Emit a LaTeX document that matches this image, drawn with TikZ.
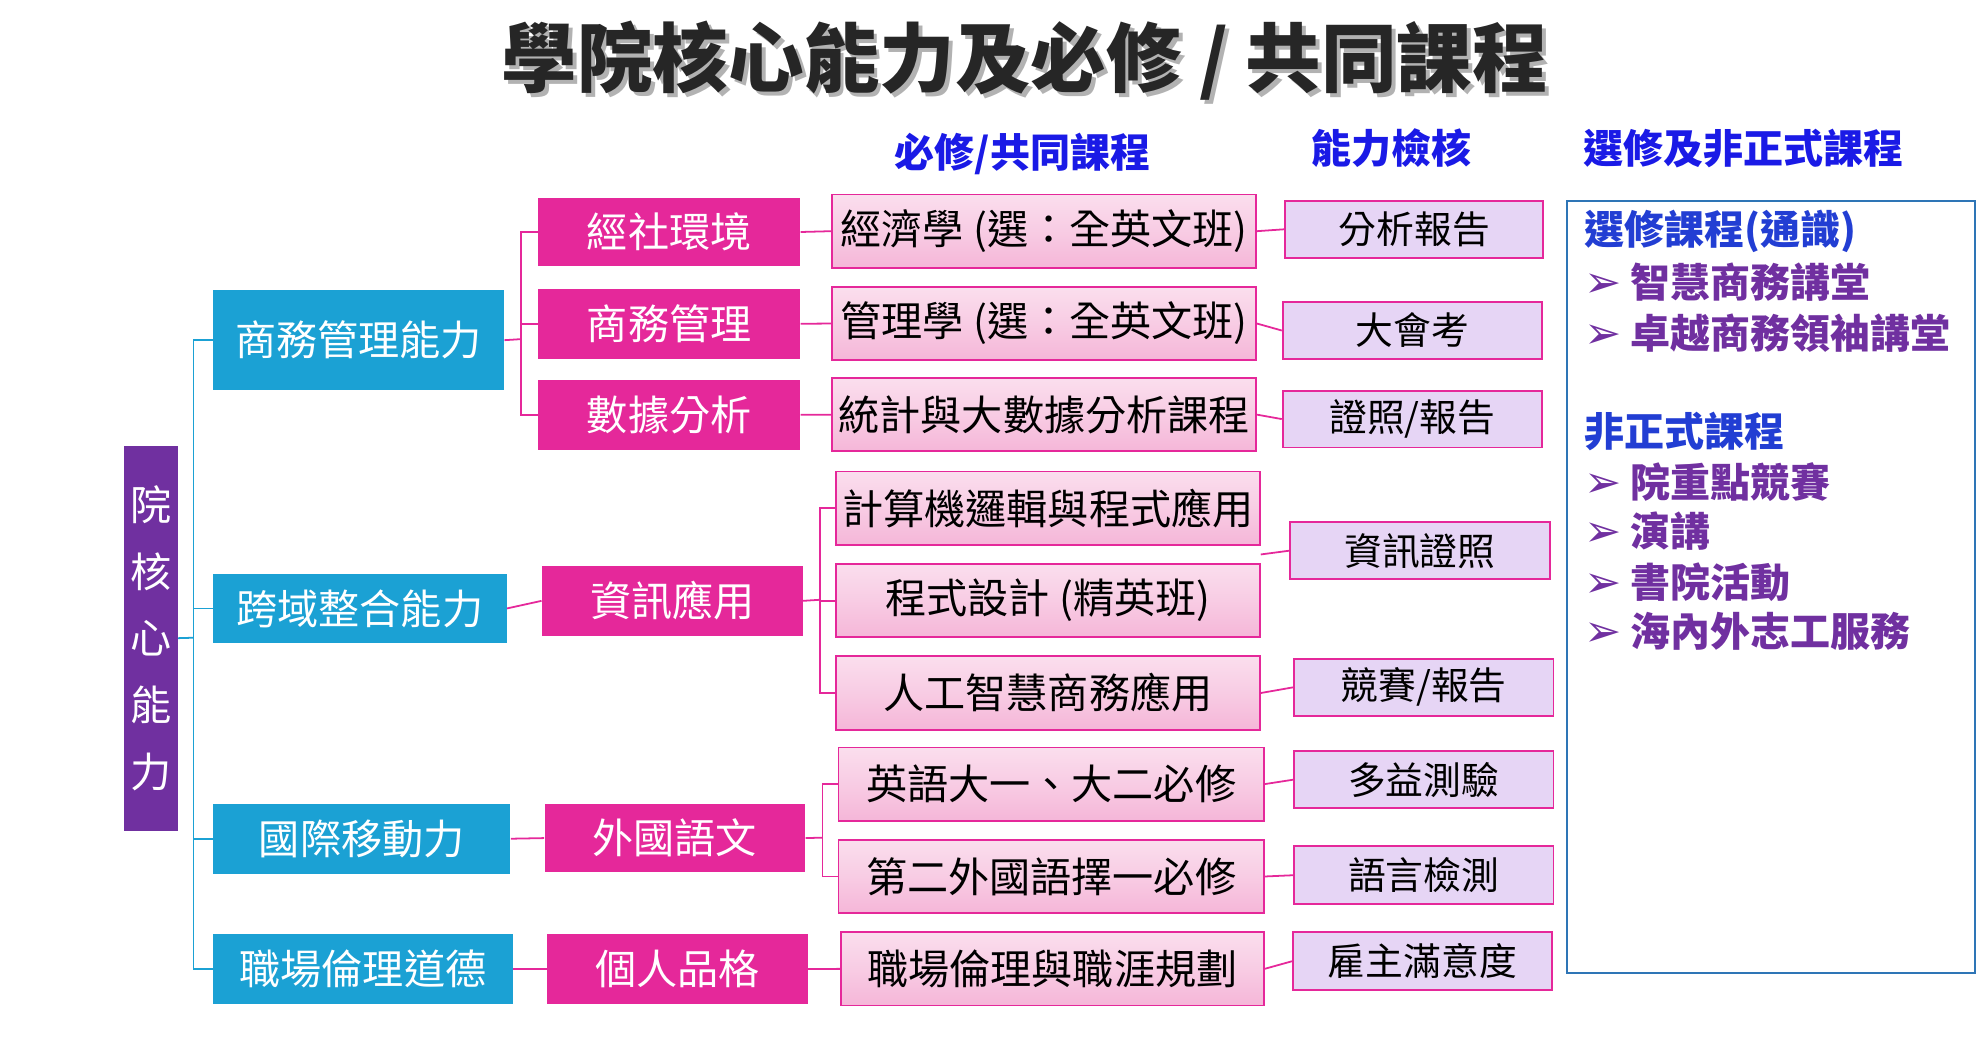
\documentclass[tikz,border=0pt]{standalone}
\usepackage{fontspec}
\setmainfont{Noto Sans CJK TC}
\newfontfamily\symb{DejaVu Sans}
\usetikzlibrary{positioning, calc, shadings}
\definecolor{mepurple}{HTML}{7030A0}
\definecolor{meblue}{HTML}{1BA1D4}
\definecolor{memag}{HTML}{E5289A}
\definecolor{mepink}{HTML}{F5B6D8}
\definecolor{melav}{HTML}{E6D5F5}
\definecolor{mehead}{HTML}{1A1AE6}
\definecolor{meframe}{HTML}{2E75B6}
\tikzset{
	cbox/.style={anchor=north west, inner sep=0pt, text=white, font=\fontsize{18.5}{22}\selectfont},
	bluebox/.style={cbox, fill=meblue},
	magbox/.style={cbox, fill=memag},
	pinkbox/.style={cbox, draw=memag, thick, top color=mepink!45, bottom color=mepink, middle color=mepink!70, text=black},
	lavbox/.style={cbox, draw=memag, thick, fill=melav, text=black, font=\fontsize{17}{20}\selectfont},
	tline/.style={meblue, thick},
	mline/.style={memag, thick},
	head/.style={font=\fontsize{18}{21}\selectfont\bfseries, text=mehead},
	item/.style={anchor=west, font=\fontsize{18}{21}\selectfont\bfseries, text=mepurple},
}
% box at pixel corner (x,y) with width w and height h
\newcommand{\bx}[6]{\node[#1, minimum width=#4*0.02cm, minimum height=#5*0.02cm] (#2) at (#3) {#6};}
\newcommand{\arr}{{\symb\fontsize{20}{18}\selectfont ➢}\ }
\begin{document}
\begin{tikzpicture}[x=0.02cm, y=-0.02cm]
	\useasboundingbox (0,0) rectangle (1568,822);
	% title
	\node[font=\fontsize{34}{38}\selectfont\bfseries, text=gray!60] at (813,51) {學院核心能力及必修 / 共同課程};
	\node[font=\fontsize{34}{38}\selectfont\bfseries, text=black!85] (title) at (810,48) {學院核心能力及必修 / 共同課程};
	\node[head] (h1) at (808,122) {必修/共同課程};
	\node[head] (h2) at (1100,117) {能力檢核};
	\node[head] (h3) at (1378,117) {選修及非正式課程};
	% left column
	\bx{cbox, fill=mepurple, align=center}{core}{98,352}{42}{304}{院\\[8pt]核\\[8pt]心\\[8pt]能\\[8pt]力}
	\bx{bluebox}{b1}{168,229}{230}{79}{商務管理能力}
	\bx{bluebox}{b2}{168,453}{232}{55}{跨域整合能力}
	\bx{bluebox}{b3}{168,635}{235}{55}{國際移動力}
	\bx{bluebox}{b4}{168,738}{237}{55}{職場倫理道德}
	% magenta column
	\bx{magbox}{m1}{425,156}{207}{54}{經社環境}
	\bx{magbox}{m2}{425,228}{207}{55}{商務管理}
	\bx{magbox}{m3}{425,300}{207}{55}{數據分析}
	\bx{magbox}{m4}{428,447}{206}{55}{資訊應用}
	\bx{magbox}{m5}{430,635}{206}{54}{外國語文}
	\bx{magbox}{m6}{432,738}{206}{55}{個人品格}
	% courses
	\bx{pinkbox}{c1}{657,153}{335}{58}{經濟學 (選：全英文班)}
	\bx{pinkbox}{c2}{657,226}{335}{58}{管理學 (選：全英文班)}
	\bx{pinkbox}{c3}{657,298}{335}{58}{統計與大數據分析課程}
	\bx{pinkbox}{c4}{660,372}{335}{58}{計算機邏輯與程式應用}
	\bx{pinkbox}{c5}{660,445}{335}{58}{程式設計 (精英班)}
	\bx{pinkbox}{c6}{660,518}{335}{58}{人工智慧商務應用}
	\bx{pinkbox}{c7}{662,590}{336}{58}{英語大一、大二必修}
	\bx{pinkbox}{c8}{662,663}{336}{58}{第二外國語擇一必修}
	\bx{pinkbox}{c9}{664,736}{334}{58}{職場倫理與職涯規劃}
	% checks
	\bx{lavbox}{k1}{1015,158}{204}{45}{分析報告}
	\bx{lavbox}{k2}{1013,238}{205}{45}{大會考}
	\bx{lavbox}{k3}{1013,308}{205}{45}{證照/報告}
	\bx{lavbox}{k4}{1019,412}{205}{45}{資訊證照}
	\bx{lavbox}{k5}{1022,520}{205}{45}{競賽/報告}
	\bx{lavbox}{k6}{1022,593}{205}{45}{多益測驗}
	\bx{lavbox}{k7}{1022,668}{205}{46}{語言檢測}
	\bx{lavbox}{k8}{1021,736}{205}{46}{雇主滿意度}
	% connectors
	\coordinate (j0) at (153,504);
	\draw[tline] (core.east) -- (j0);
	\foreach \b in {b1,b2,b3,b4} \draw[tline] (j0) |- (\b.west);
	\coordinate (j1) at (412,268);
	\draw[mline] (b1.east) -- (j1);
	\foreach \m in {m1,m2,m3} \draw[mline] (j1) |- (\m.west);
	\draw[mline] (b2.east) -- (m4.west);
	\draw[mline] (b3.east) -- (m5.west);
	\draw[mline] (b4.east) -- (m6.west);
	\draw[mline] (m1.east) -- (c1.west);
	\draw[mline] (m2.east) -- (c2.west);
	\draw[mline] (m3.east) -- (c3.west);
	\coordinate (j2) at (648,474);
	\draw[mline] (m4.east) -- (j2);
	\foreach \c in {c4,c5,c6} \draw[mline] (j2) |- (\c.west);
	\coordinate (j3) at (650,662);
	\draw[mline] (m5.east) -- (j3);
	\foreach \c in {c7,c8} \draw[mline] (j3) |- (\c.west);
	\draw[mline] (m6.east) -- (c9.west);
	\draw[mline] (c1.east) -- (k1.west);
	\draw[mline] (c2.east) -- (k2.west);
	\draw[mline] (c3.east) -- (k3.west);
	\draw[mline] ($(c4.east)!.5!(c5.east)$) -- (k4.west);
	\draw[mline] (c6.east) -- (k5.west);
	\draw[mline] (c7.east) -- (k6.west);
	\draw[mline] (c8.east) -- (k7.west);
	\draw[mline] (c9.east) -- (k8.west);
	% electives
	\node[draw=meframe, thick, anchor=north west, minimum width=322*0.02cm, minimum height=610*0.02cm] (el) at (1238,158) {};
	\node[item, text=mehead!60!meframe] (e0) at (1246,183) {選修課程(通識)};
	\node[item] (e1) at (1246,223) {\arr 智慧商務講堂};
	\node[item] (e2) at (1246,263) {\arr 卓越商務領袖講堂};
	\node[item, text=mehead!60!meframe] (e3) at (1246,341) {非正式課程};
	\node[item] (e4) at (1246,381) {\arr 院重點競賽};
	\node[item] (e5) at (1246,420) {\arr 演講};
	\node[item] (e6) at (1246,460) {\arr 書院活動};
	\node[item] (e7) at (1246,499) {\arr 海內外志工服務};
\end{tikzpicture}
\end{document}
